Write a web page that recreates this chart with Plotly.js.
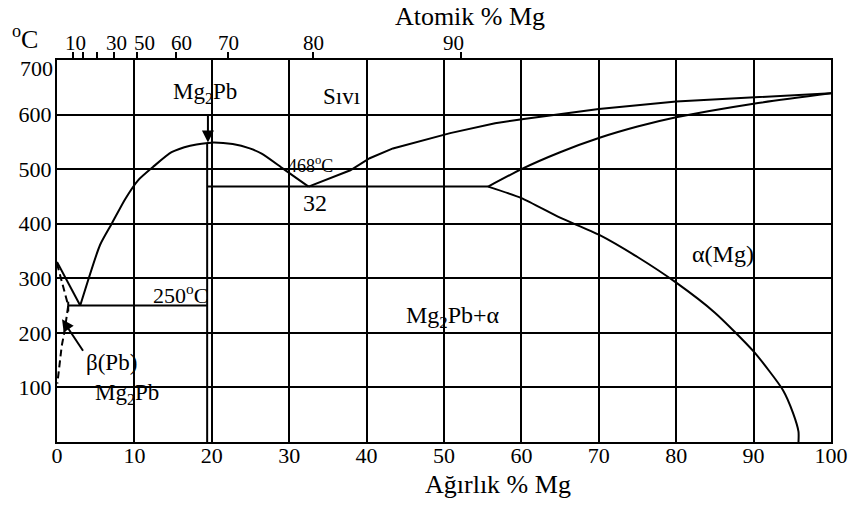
<!DOCTYPE html>
<html>
<head>
<meta charset="utf-8">
<script src="https://cdn.plot.ly/plotly-3.0.1.min.js"></script>
<style>html,body{margin:0;padding:0;background:#fff;}#chart{width:857px;height:505px;}</style>
</head>
<body>
<div id="chart"></div>
<script>
// ---- data (weight % Mg, temperature °C) ----
const liqLeftX = [0, 3];
const liqLeftT = [330, 250];
const domeX = [3, 5.56, 7.07, 8.8, 10.5, 12.4, 14.8, 17.2, 19.5, 20.2, 22.7, 24.9, 26.5, 29.2, 32.5];
const domeT = [250, 361, 400, 445, 480, 504, 531, 543, 548, 549, 546, 538, 528, 501, 468];
const liqRightX = [32.5, 37.9, 40.4, 43.4, 50.8, 56.6, 60.3, 65, 70, 80, 90, 100];
const liqRightT = [468, 498, 520, 538, 566, 584, 592, 601, 610, 624, 632, 639];
const solidusX = [55.7, 60, 65, 70, 75, 80, 90, 100];
const solidusT = [468, 500, 531, 557, 578, 595, 620, 639];
const solvusX = [55.7, 60, 65, 70, 75, 80, 85, 90, 93.8, 95.1, 95.8, 95.8];
const solvusT = [468, 447, 411, 380, 339, 292, 237, 166, 95, 53, 19, 0];
const betaX = [0, 1.45, 1.0, 0.6, 0.3, 0.04];
const betaT = [327, 250, 205, 175, 138, 107];
const eut1X = [1.45, 19.4];
const eut1T = [250, 250];
const eut1TickX = [1.45, 1.45];
const eut1TickT = [257, 239];
const eut2X = [19.4, 55.7];
const eut2T = [468, 468];
const compoundX = [19.4, 19.4];
const compoundT = [0, 548];

const xTicks = [0, 10, 20, 30, 40, 50, 60, 70, 80, 90, 100];
const yTicks = [100, 200, 300, 400, 500, 600, 700];
const yTickText = ['100', '200', '300', '400', '500', '600', '700'];
// atomic % Mg scale on top (positions in weight %)
const atomicTickPos = [2.07, 3.36, 5.17, 7.36, 10.34, 15.37, 22.09, 33.07, 52.2];
const atomicLabels = ['10', '30', '50', '60', '70', '80', '90'];
const atomicLabelPos = [2.4, 7.7, 11.3, 16.1, 22.1, 33.2, 51.2];

// region labels
const labelText = ['Mg<sub>2</sub>Pb', 'Sıvı', '468<sup>o</sup>C', '32', '250<sup>o</sup>C', 'β(Pb)', 'Mg<sub>2</sub>Pb', 'Mg<sub>2</sub>Pb+α', 'α(Mg)'];
const labelX = [19.06, 36.7, 32.7, 33.3, 15.9, 6.98, 9.04, 51.2, 86.0];
const labelT = [639, 634, 509, 438, 271, 146, 88, 229, 344];
const labelSize = [23, 23, 18, 24, 22, 23, 23, 24, 24];

const FONT = 'Liberation Serif, Times New Roman, serif';
const line = (x, y, extra) => Object.assign({
  x: x, y: y, type: 'scatter', mode: 'lines', hoverinfo: 'skip', showlegend: false,
  line: {color: 'black', width: 2}
}, extra || {});
const smooth = {color: 'black', width: 2, shape: 'spline', smoothing: 0.6};

const traces = [
  line(liqLeftX, liqLeftT),
  line(domeX, domeT, {line: smooth}),
  line(liqRightX, liqRightT),
  line(solidusX, solidusT, {line: smooth}),
  line(solvusX, solvusT, {line: smooth}),
  line(betaX, betaT, {line: {color: 'black', width: 2, dash: '7px,4px'}}),
  line(eut1X, eut1T),
  line(eut1TickX, eut1TickT),
  line(eut2X, eut2T),
  line(compoundX, compoundT),
  line([0, 100], [-100, -100], {xaxis: 'x2', line: {color: 'rgba(0,0,0,0)', width: 0}})
];

const annotations = [];
labelText.forEach((t, i) => annotations.push({
  x: labelX[i], y: labelT[i], xref: 'x', yref: 'y', text: t, showarrow: false,
  font: {family: FONT, size: labelSize[i], color: 'black'}, xanchor: 'center', yanchor: 'middle'
}));
atomicLabels.forEach((t, i) => annotations.push({
  x: atomicLabelPos[i], y: 1, xref: 'x', yref: 'paper', yshift: 17.5, text: t, showarrow: false,
  font: {family: FONT, size: 21, color: 'black'}, xanchor: 'center', yanchor: 'middle', borderpad: 0
}));
// top y label sits just below the frame corner, as in the source figure
annotations.push({x: 0, y: yTicks[yTicks.length - 1], xref: 'paper', yref: 'y', xshift: -2, yshift: -8,
  text: yTickText[yTickText.length - 1], showarrow: false,
  font: {family: FONT, size: 22, color: 'black'}, xanchor: 'right', yanchor: 'middle'});
// arrows
annotations.push({x: 19.5, y: 549, xref: 'x', yref: 'y', ax: 0, ay: -30, text: '', showarrow: true,
  arrowhead: 2, arrowsize: 1.2, arrowwidth: 2, arrowcolor: 'black'});
annotations.push({x: 0.65, y: 225, xref: 'x', yref: 'y', ax: 22, ay: 33, text: '', showarrow: true,
  arrowhead: 2, arrowsize: 1.2, arrowwidth: 2, arrowcolor: 'black'});
// unit label and x title
annotations.push({x: -0.0413, y: 1.0576, xref: 'paper', yref: 'paper', text: '<sup>o</sup>C', showarrow: false,
  font: {family: FONT, size: 26, color: 'black'}, xanchor: 'center', yanchor: 'middle'});
annotations.push({x: 57, y: -0.11, xref: 'x', yref: 'paper', text: 'Ağırlık % Mg', showarrow: false,
  font: {family: FONT, size: 26, color: 'black'}, xanchor: 'center', yanchor: 'middle'});

const layout = {
  width: 857, height: 505,
  margin: {l: 57, r: 26, t: 60, b: 63, pad: 0},
  paper_bgcolor: 'white', plot_bgcolor: 'white',
  font: {family: FONT, color: 'black'},
  title: {text: 'Atomik % Mg', x: 0.5336, xref: 'paper', xanchor: 'center', y: 0.969, yref: 'container', yanchor: 'middle',
    font: {family: FONT, size: 26, color: 'black'}},
  xaxis: {range: [0, 100], tickvals: xTicks, ticks: '', showgrid: true, gridcolor: 'black', gridwidth: 2,
    zeroline: false, showline: true, mirror: true, linecolor: 'black', linewidth: 2,
    ticklabelstandoff: -7,
    tickfont: {family: FONT, size: 22, color: 'black'}, fixedrange: true},
  xaxis2: {range: [0, 100], overlaying: 'x', side: 'top', anchor: 'y', tickvals: atomicTickPos,
    ticks: 'outside', ticklen: 7, tickwidth: 2, tickcolor: 'black', showticklabels: false,
    showgrid: false, zeroline: false, showline: false, fixedrange: true},
  yaxis: {range: [0, 700], tickvals: yTicks, ticktext: yTickText.slice(0, -1).concat(['']), ticks: '',
    showgrid: true, gridcolor: 'black', gridwidth: 2,
    zeroline: false, showline: true, mirror: true, linecolor: 'black', linewidth: 2,
    ticklabelstandoff: -1,
    tickfont: {family: FONT, size: 22, color: 'black'}, fixedrange: true},
  annotations: annotations,
  showlegend: false
};

Plotly.newPlot('chart', traces, layout, {displayModeBar: false, staticPlot: true});
</script>
</body>
</html>
